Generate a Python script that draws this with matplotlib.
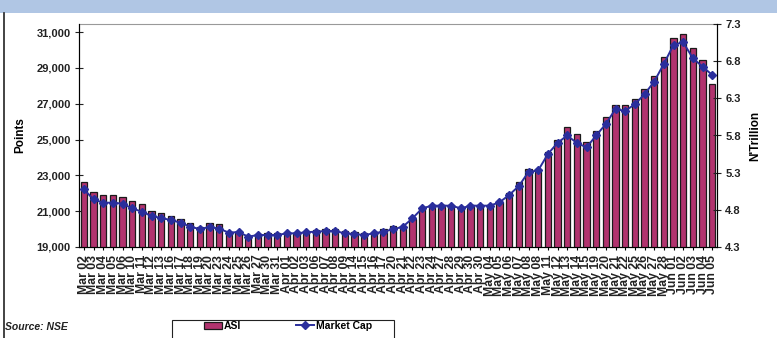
import matplotlib.pyplot as plt
import matplotlib.ticker as mticker
from matplotlib.patches import Rectangle
import numpy as np

plt.rcParams['font.family'] = ['Liberation Sans', 'DejaVu Sans']

# 交易日
dates = ['Mar 02', 'Mar 03', 'Mar 04', 'Mar 05', 'Mar 06', 'Mar 10', 'Mar 11', 'Mar 12',
         'Mar 13', 'Mar 16', 'Mar 17', 'Mar 18', 'Mar 19', 'Mar 20', 'Mar 23', 'Mar 24',
         'Mar 25', 'Mar 26', 'Mar 27', 'Mar 30', 'Mar 31', 'Apr 01', 'Apr 02', 'Apr 03',
         'Apr 06', 'Apr 07', 'Apr 08', 'Apr 09', 'Apr 14', 'Apr 15', 'Apr 16', 'Apr 17',
         'Apr 20', 'Apr 21', 'Apr 22', 'Apr 23', 'Apr 24', 'Apr 27', 'Apr 28', 'Apr 29',
         'Apr 30', 'Apr 30', 'May 04', 'May 05', 'May 06', 'May 07', 'May 08', 'May 08',
         'May 11', 'May 12', 'May 13', 'May 14', 'May 15', 'May 19', 'May 20', 'May 21',
         'May 22', 'May 25', 'May 26', 'May 27', 'May 28', 'Jun 01', 'Jun 02', 'Jun 03',
         'Jun 04', 'Jun 05']

# ASI 指数 (points)
asi = [22630, 22060, 21890, 21890, 21800, 21590, 21410, 21020, 20910, 20720, 20560,
       20350, 20130, 20350, 20260, 19850, 19850, 19570, 19720, 19760, 19760, 19800,
       19780, 19850, 19940, 19980, 19980, 19890, 19850, 19800, 19850, 19980, 20170,
       20090, 20540, 21200, 21370, 21370, 21370, 21150, 21370, 21370, 21370, 21540,
       22000, 22630, 23350, 23350, 24300, 25000, 25700, 25300, 24850, 25450, 26278,
       26944, 26944, 27239, 27817, 28556, 29611, 30683, 30872, 30094, 29444, 28094]

# 市值 (N'Trillion)
mcap = [5.076, 4.94, 4.896, 4.896, 4.883, 4.82, 4.775, 4.717, 4.69, 4.663, 4.627,
        4.573, 4.542, 4.569, 4.547, 4.493, 4.502, 4.439, 4.461, 4.461, 4.461, 4.484,
        4.484, 4.498, 4.507, 4.515, 4.515, 4.484, 4.475, 4.461, 4.484, 4.507, 4.538,
        4.573, 4.686, 4.82, 4.856, 4.856, 4.856, 4.82, 4.856, 4.856, 4.856, 4.901,
        5.0, 5.12, 5.31, 5.33, 5.55, 5.70, 5.80, 5.70, 5.64, 5.80, 5.955,
        6.157, 6.130, 6.221, 6.355, 6.525, 6.763, 7.019, 7.055, 6.840, 6.727, 6.615]

fig = plt.figure(figsize=(7.77, 3.38), dpi=100)

# 顶部色条 + 左边框
fig.patches.append(Rectangle((0, 1 - 13 / 338), 1, 13 / 338, transform=fig.transFigure,
                             facecolor='#B0C6E4', edgecolor='none'))
fig.add_artist(plt.Line2D([4 / 777, 4 / 777], [0, 1 - 13 / 338], transform=fig.transFigure,
                          color='#222222', lw=1.2))

ax = fig.add_axes([79 / 777, 1 - 247 / 338, 638 / 777, 223 / 338])
x = np.arange(len(dates))
bars = ax.bar(x, asi, width=0.64, color='#B1336E', edgecolor='#1a1a1a', linewidth=0.9,
              label='ASI', zorder=2)
ax.set_xlim(-0.5, len(dates) - 0.5)
ax.set_ylim(19000, 31450)
ax.set_yticks(range(19000, 31001, 2000))
ax.yaxis.set_major_formatter(mticker.StrMethodFormatter('{x:,.0f}'))
ax.set_xticks(x)
ax.set_xticklabels(dates, rotation=90, fontsize=8.8, fontweight='bold', color='#222222')
ax.tick_params(axis='y', direction='inout', length=6, labelsize=8, pad=3, colors='#222222')
ax.tick_params(axis='x', direction='inout', length=5, pad=3)
for lab in ax.get_yticklabels():
    lab.set_fontweight('bold')
ax.set_ylabel('Points', fontsize=8.5, fontweight='bold', labelpad=7)
ax.spines['top'].set_color('#999999')
ax.spines['left'].set_color('#222222')
ax.spines['bottom'].set_color('#222222')
ax.spines['right'].set_color('#222222')

ax2 = ax.twinx()
line, = ax2.plot(x, mcap, color='#2A2E9C', lw=1.4, marker='D', markersize=3.8,
                 label='Market Cap', zorder=3)
ax2.set_ylim(4.3, 7.3)
ax2.set_yticks(np.arange(4.3, 7.31, 0.5))
ax2.yaxis.set_major_formatter(mticker.FormatStrFormatter('%.1f'))
ax2.tick_params(axis='y', direction='inout', length=6, labelsize=8, pad=3, colors='#222222')
for lab in ax2.get_yticklabels():
    lab.set_fontweight('bold')
ax2.set_ylabel("N'Trillion", fontsize=8.5, fontweight='bold', labelpad=6)
ax2.spines['top'].set_visible(False)

# 图例框
fig.patches.append(Rectangle((172 / 777, -0.05), 222 / 777, 0.05 + 1 - 320 / 338,
                             transform=fig.transFigure, facecolor='white',
                             edgecolor='#222222', linewidth=0.8))
fig.legend([bars, line], ['ASI', 'Market Cap'], loc='upper left',
           bbox_to_anchor=(204 / 777, 1 - 321 / 338), ncol=2, frameon=False,
           prop={'weight': 'bold', 'size': 7.5}, handlelength=1.7,
           handletextpad=0.2, columnspacing=5.3, borderaxespad=0, borderpad=0)

fig.text(5 / 777, 1 - 327 / 338, 'Source: NSE', fontsize=7.5, fontweight='bold',
         style='italic', va='center', ha='left', color='#222222')

fig.savefig('out.png', dpi=100)
